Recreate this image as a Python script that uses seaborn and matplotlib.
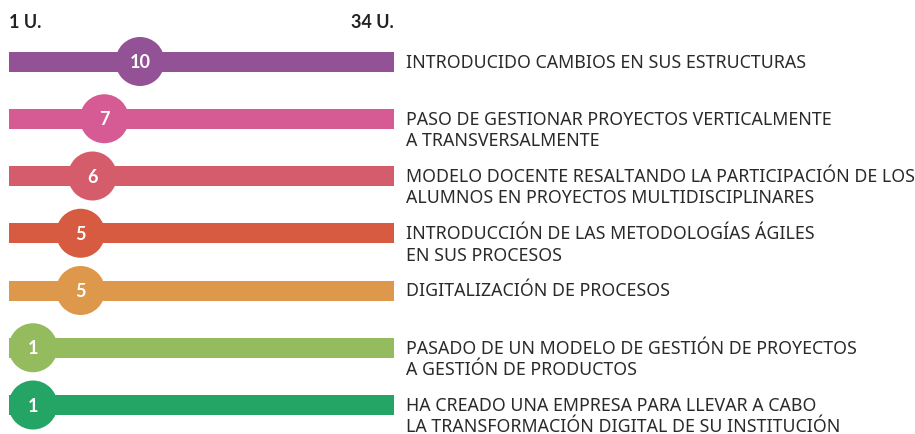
import matplotlib.pyplot as plt
import numpy as np
import pandas as pd
import seaborn as sns

# data, top to bottom
labels = [
    "INTRODUCIDO CAMBIOS EN SUS ESTRUCTURAS",
    "PASO DE GESTIONAR PROYECTOS VERTICALMENTE\nA TRANSVERSALMENTE",
    "MODELO DOCENTE RESALTANDO LA PARTICIPACIÓN DE LOS\nALUMNOS EN PROYECTOS MULTIDISCIPLINARES",
    "INTRODUCCIÓN DE LAS METODOLOGÍAS ÁGILES\nEN SUS PROCESOS",
    "DIGITALIZACIÓN DE PROCESOS",
    "PASADO DE UN MODELO DE GESTIÓN DE PROYECTOS\nA GESTIÓN DE PRODUCTOS",
    "HA CREADO UNA EMPRESA PARA LLEVAR A CABO\nLA TRANSFORMACIÓN DIGITAL DE SU INSTITUCIÓN",
]
values = [10, 7, 6, 5, 5, 1, 1]
colors = ["#935295", "#D65B94", "#D55C6B", "#D65B40", "#DE984C", "#95BB5F", "#24A566"]
scale_min_label = "1 U."
scale_max_label = "34 U."

df = pd.DataFrame({"label": labels, "value": values, "row": np.arange(len(labels))})

sns.set_style("white")
plt.rcParams["font.family"] = ["Noto Sans", "DejaVu Sans"]

fig = plt.figure(figsize=(9.15, 4.35), dpi=100)
ax = fig.add_axes([9 / 915, 0, 385 / 915, 1])

# px mapping: value 1 -> 33px, value 10 -> 140px (11.9 px / unit)
ppu = 107 / 9
row_px = 57.25
ax.set_xlim(1 - 24 / ppu, 1 + (394 - 33) / ppu)
ax.set_ylim(6 + 29 / row_px, -62.5 / row_px)

for r, c in zip(df["row"], colors):
    ax.axhline(r, color=c, lw=14.4, solid_capstyle="butt", zorder=1)

sns.scatterplot(data=df, x="value", y="row", hue="label", palette=colors,
                s=1245, linewidth=0, legend=False, ax=ax, zorder=2, clip_on=True)

for v, r in zip(df["value"], df["row"]):
    ax.text(v, r, str(v), ha="center", va="center", color="white",
            fontsize=13, fontweight="bold", family=["Lato", "DejaVu Sans"], zorder=3)

for r, lab in zip(df["row"], df["label"]):
    ax.annotate(lab, xy=(1, r), xycoords=("axes fraction", "data"),
                xytext=(12, 9), textcoords="offset pixels",
                ha="left", va="top", fontsize=12.8, color="#2a2a2a",
                linespacing=1.24, annotation_clip=False)

for xa, ha, txt in [(0, "left", scale_min_label), (1, "right", scale_max_label)]:
    ax.text(xa, 1 - 23 / 435, txt, transform=ax.transAxes, ha=ha, va="center",
            fontsize=13, fontweight="bold", family=["Lato", "DejaVu Sans"], color="#222222")
ax.axis("off")

fig.savefig("out.png", dpi=100, facecolor="white")
